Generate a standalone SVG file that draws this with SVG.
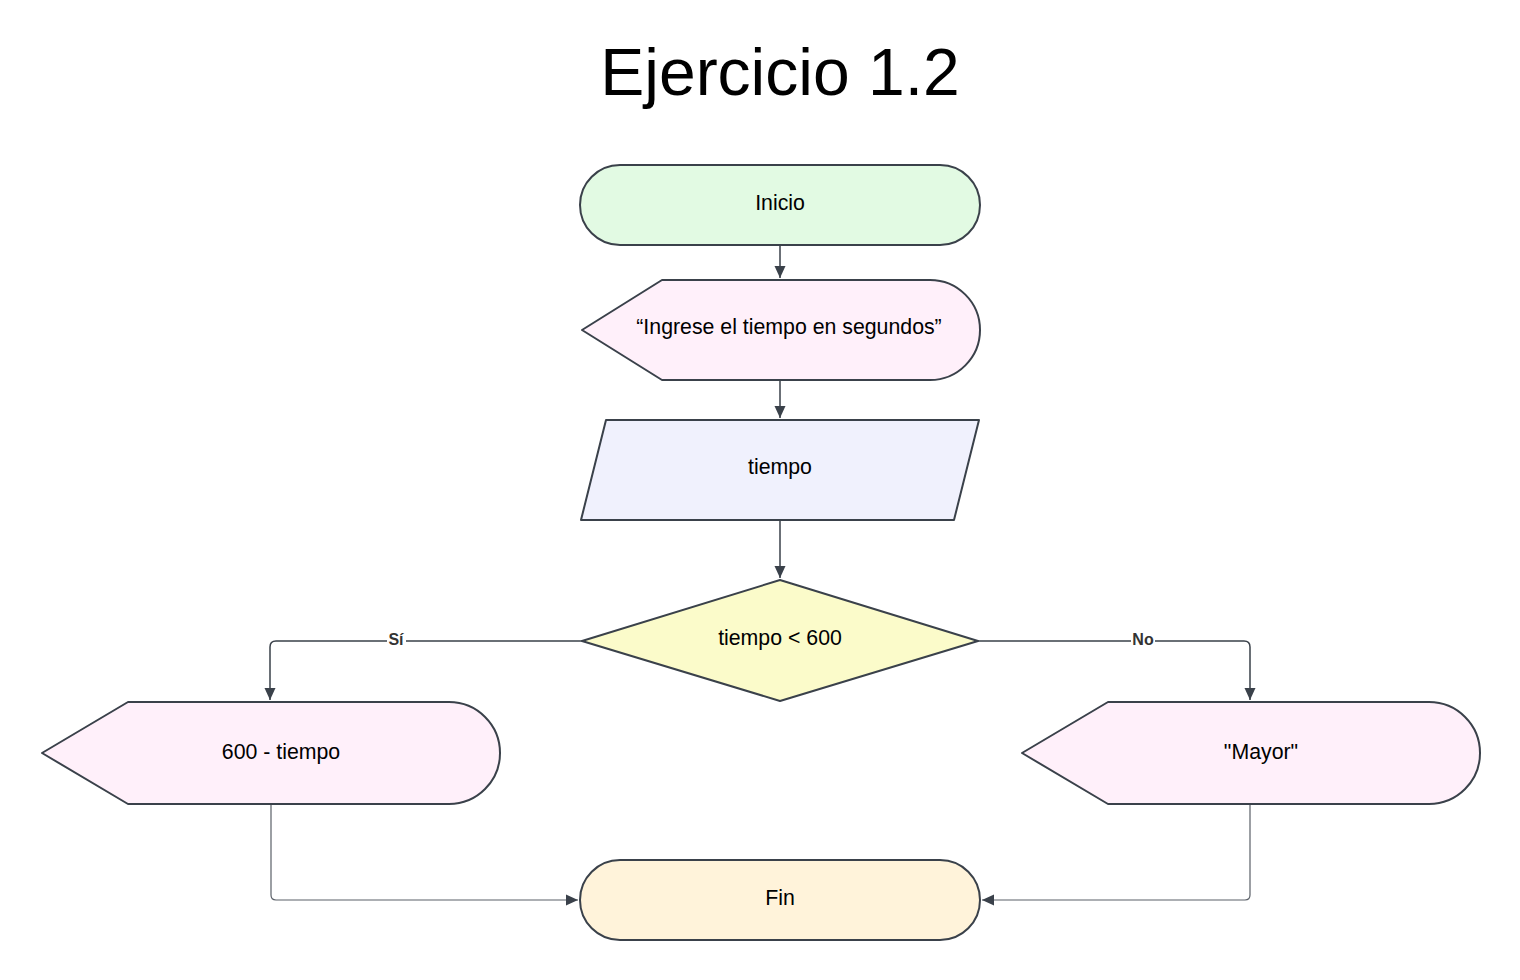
<svg xmlns="http://www.w3.org/2000/svg" width="1520" height="980" viewBox="0 0 1520 980">
<style>
.shape{stroke:#3a414a;stroke-width:2;stroke-linejoin:round}
.lbl{font-family:"Liberation Sans",Arial,sans-serif;font-size:21.3px;fill:#000;text-anchor:middle;dominant-baseline:central}
.edge{fill:none;stroke:#3a414a;stroke-width:1.5}
.thin{fill:none;stroke:#5a6068;stroke-width:1.2}
.elbl{font-family:"Liberation Sans",Arial,sans-serif;font-size:16px;font-weight:bold;fill:#333;text-anchor:middle;dominant-baseline:central}
</style>
<defs>
<marker id="arr" viewBox="0 0 12 12" refX="12" refY="6" markerWidth="12" markerHeight="14" markerUnits="userSpaceOnUse" orient="auto">
<path d="M0,0.5 L12,6 L0,11.5 Z" fill="#3a414a"/>
</marker>
</defs>
<rect width="1520" height="980" fill="#fff"/>
<text x="780" y="72" font-family="Liberation Sans,Arial,sans-serif" font-size="66" text-anchor="middle" dominant-baseline="central" fill="#000">Ejercicio 1.2</text>
<g id="connectors">
<path class="edge" d="M780,245 V278" marker-end="url(#arr)"/>
<path class="edge" d="M780,380 V418" marker-end="url(#arr)"/>
<path class="edge" d="M780,520 V578" marker-end="url(#arr)"/>
<path class="edge" d="M582,641 H276 Q270,641 270,647 V700" marker-end="url(#arr)"/>
<path class="edge" d="M978,641 H1244 Q1250,641 1250,647 V700" marker-end="url(#arr)"/>
<path class="thin" d="M271,804 V895 Q271,900 276,900 H578" marker-end="url(#arr)"/>
<path class="thin" d="M1250,804 V895 Q1250,900 1245,900 H982" marker-end="url(#arr)"/>
<rect x="387" y="630" width="19" height="18" fill="#fff"/>
<rect x="1131" y="630" width="24" height="18" fill="#fff"/>
<text class="elbl" x="396" y="639">Sí</text>
<text class="elbl" x="1143" y="639">No</text>
</g>
<g id="inicio">
<rect class="shape" x="580" y="165" width="400" height="80" rx="40" fill="#e2fae3"/>
<text class="lbl" x="780" y="203">Inicio</text>
</g>
<g id="mensaje">
<path class="shape" d="M582,330 L662,280 H930 A50,50 0 0 1 930,380 H662 Z" fill="#fff0fa"/>
<text class="lbl" x="789" y="327">“Ingrese el tiempo en segundos”</text>
</g>
<g id="tiempo">
<path class="shape" d="M606,420 H979 L954,520 H581 Z" fill="#f0f1fd"/>
<text class="lbl" x="780" y="467">tiempo</text>
</g>
<g id="decision">
<path class="shape" d="M780,580 L978,641 L780,701 L582,641 Z" fill="#fbfbca"/>
<text class="lbl" x="780" y="638">tiempo &lt; 600</text>
</g>
<g id="resta">
<path class="shape" d="M42,753 L128,702 H449 A51,51 0 0 1 449,804 H128 Z" fill="#fff0fa"/>
<text class="lbl" x="281" y="752">600 - tiempo</text>
</g>
<g id="mayor">
<path class="shape" d="M1022,753 L1108,702 H1429 A51,51 0 0 1 1429,804 H1108 Z" fill="#fff0fa"/>
<text class="lbl" x="1261" y="752">"Mayor"</text>
</g>
<g id="fin">
<rect class="shape" x="580" y="860" width="400" height="80" rx="40" fill="#fff3da"/>
<text class="lbl" x="780" y="898">Fin</text>
</g>
</svg>
